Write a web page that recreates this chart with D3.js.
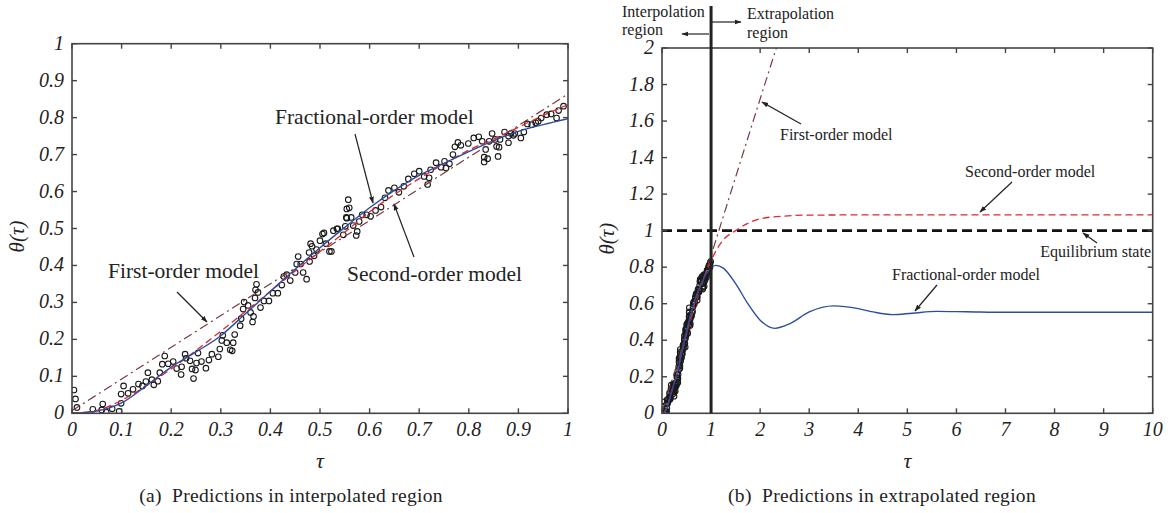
<!DOCTYPE html>
<html>
<head>
<meta charset="utf-8">
<script src="https://cdn.jsdelivr.net/npm/d3@7"></script>
<style>
	body{margin:0;background:#fff;}
	svg{display:block;}
	text{font-family:"Liberation Serif","Times New Roman","DejaVu Serif",serif;}
</style>
</head>
<body>
<svg id="fig" width="1168" height="513" font-family="Liberation Serif, serif"></svg>
<script>
// observed points (tau, theta)
const obsTau = [0.004,0.007,0.01,0.042,0.062,0.06,0.069,0.081,0.095,0.099,0.099,0.104,0.113,0.123,0.134,0.142,0.149,0.153,0.161,0.165,
	0.173,0.177,0.182,0.187,0.194,0.204,0.211,0.221,0.22,0.228,0.23,0.238,0.242,0.245,0.249,0.251,0.254,0.261,0.27,0.276,
	0.282,0.295,0.298,0.302,0.304,0.312,0.319,0.323,0.325,0.328,0.339,0.341,0.345,0.347,0.355,0.36,0.364,0.366,0.369,0.37,
	0.372,0.375,0.38,0.387,0.397,0.405,0.415,0.423,0.427,0.433,0.44,0.45,0.453,0.456,0.461,0.466,0.473,0.478,0.479,0.481,
	0.484,0.488,0.493,0.5,0.505,0.508,0.512,0.519,0.523,0.527,0.534,0.536,0.547,0.551,0.554,0.554,0.557,0.559,0.553,0.563,
	0.567,0.573,0.575,0.579,0.585,0.594,0.602,0.612,0.623,0.631,0.638,0.65,0.659,0.669,0.678,0.69,0.7,0.71,0.717,0.72,
	0.723,0.734,0.744,0.751,0.754,0.761,0.768,0.772,0.778,0.784,0.799,0.81,0.82,0.827,0.831,0.831,0.834,0.838,0.841,0.847,
	0.853,0.856,0.859,0.861,0.863,0.872,0.88,0.88,0.885,0.89,0.893,0.905,0.911,0.918,0.927,0.935,0.94,0.946,0.957,0.966,
	0.977,0.981,0.991]
const obsTheta = [0.063,0.039,0.016,0.011,0.025,0.009,0.003,0.012,0.005,0.027,0.052,0.074,0.054,0.065,0.079,0.074,0.086,0.11,0.091,0.077,
	0.087,0.11,0.133,0.155,0.134,0.14,0.121,0.126,0.105,0.16,0.149,0.142,0.12,0.094,0.117,0.136,0.163,0.14,0.122,0.144,
	0.16,0.153,0.174,0.197,0.211,0.191,0.172,0.169,0.191,0.213,0.237,0.256,0.282,0.301,0.292,0.273,0.247,0.262,0.312,0.334,
	0.349,0.327,0.286,0.304,0.304,0.325,0.325,0.347,0.37,0.375,0.359,0.381,0.404,0.424,0.404,0.381,0.363,0.435,0.411,0.459,
	0.452,0.426,0.443,0.467,0.485,0.488,0.459,0.438,0.438,0.494,0.499,0.499,0.483,0.506,0.528,0.553,0.578,0.556,0.53,0.53,
	0.508,0.481,0.492,0.519,0.537,0.537,0.533,0.549,0.558,0.583,0.603,0.61,0.598,0.614,0.634,0.648,0.655,0.641,0.619,0.637,
	0.659,0.678,0.666,0.682,0.664,0.675,0.7,0.721,0.733,0.725,0.73,0.745,0.748,0.736,0.693,0.68,0.714,0.689,0.736,0.757,
	0.741,0.722,0.695,0.72,0.741,0.761,0.75,0.732,0.757,0.752,0.757,0.745,0.761,0.783,0.781,0.786,0.79,0.799,0.808,0.81,
	0.799,0.819,0.831]

// fractional-order model
const fracTau = [0,0.05,0.1,0.15,0.2,0.25,0.3,0.35,0.4,0.45,0.5,0.55,0.6,0.65,0.7,0.75,0.8,0.85,0.9,0.95,1,
	1.1,1.25,1.5,1.75,2,2.3,2.6,3,3.5,4,4.3,4.7,5.1,5.6,6.2,7,8,9,10]
const fracTheta = [0,0.006,0.028,0.075,0.125,0.166,0.21,0.27,0.33,0.39,0.448,0.503,0.556,0.603,0.644,0.676,0.708,0.738,0.763,0.781,0.797,
	0.81,0.795,0.71,0.6,0.51,0.465,0.49,0.555,0.588,0.573,0.555,0.54,0.548,0.558,0.556,0.553,0.553,0.553,0.553]

// second-order model
const secTau = [0,0.05,0.1,0.15,0.2,0.25,0.3,0.35,0.4,0.45,0.5,0.55,0.6,0.65,0.7,0.75,0.8,0.85,0.9,0.95,1,
	1.1,1.25,1.5,1.75,2,2.5,3,4,6,10]
const secTheta = [0,0.008,0.035,0.075,0.12,0.17,0.222,0.276,0.33,0.385,0.438,0.49,0.545,0.592,0.635,0.675,0.712,0.742,0.774,0.806,0.835,
	0.89,0.95,1.0,1.04,1.065,1.08,1.085,1.086,1.086,1.086]

// first-order model
const firstTau = [0,0.5,1,1.5,2,2.33]
const firstTheta = [0.007,0.436,0.864,1.293,1.721,2.0]

// equilibrium state
const eqTau = [0,10]
const eqTheta = [1,1]

const ticksA_x = [0,0.1,0.2,0.3,0.4,0.5,0.6,0.7,0.8,0.9,1]
const ticksA_y = [0,0.1,0.2,0.3,0.4,0.5,0.6,0.7,0.8,0.9,1]
const ticksB_x = [0,1,2,3,4,5,6,7,8,9,10]
const ticksB_y = [0,0.2,0.4,0.6,0.8,1,1.2,1.4,1.6,1.8,2]

const serif = '"Liberation Serif", "Times New Roman", serif'
const svg = d3.select('#fig')

const defs = svg.append('defs')
defs.append('marker')
	.attr('id','arr')
	.attr('viewBox','0 0 10 10')
	.attr('refX',9).attr('refY',5)
	.attr('markerWidth',7).attr('markerHeight',7)
	.attr('markerUnits','userSpaceOnUse')
	.attr('orient','auto')
	.append('path')
	.attr('d','M0,1.5 L10,5 L0,8.5 Z')
	.attr('fill','#222')

const zipPts = (a,b) => a.map((t,i)=>[t,b[i]])

const panel = (o)=>{
	const x = d3.scaleLinear().domain(o.xd).range([o.l,o.r])
	const y = d3.scaleLinear().domain(o.yd).range([o.b,o.t])

	const g = svg.append('g').attr('font-family',serif)

	g.append('clipPath').attr('id',o.id + 'clip')
		.append('rect')
		.attr('x',o.l).attr('y',o.t)
		.attr('width',o.r - o.l).attr('height',o.b - o.t)

	const plot = g.append('g').attr('clip-path',`url(#${o.id}clip)`)

	// data points
	plot.selectAll('.obs')
		.data(zipPts(obsTau,obsTheta))
		.enter()
		.append('circle')
		.classed('obs',true)
		.attr('cx',d=>x(d[0]))
		.attr('cy',d=>y(d[1]))
		.attr('r',2.8)
		.attr('fill','none')
		.attr('stroke','#1a1a1a')
		.attr('stroke-width',1.1)

	const line = d3.line().x(d=>x(d[0])).y(d=>y(d[1])).curve(d3.curveMonotoneX)
	const lim = d => d[0] <= o.xd[1] + 1e-9

	if(o.eq){
		plot.append('path')
			.attr('d',line(zipPts(eqTau,eqTheta)))
			.attr('fill','none')
			.attr('stroke','#111')
			.attr('stroke-width',2.6)
			.attr('stroke-dasharray','10,5')
	}

	plot.append('path')
		.attr('d',line(zipPts(firstTau,firstTheta).filter(lim)))
		.attr('fill','none')
		.attr('stroke','#7a3a3c')
		.attr('stroke-width',1.2)
		.attr('stroke-dasharray','9,4,2,4')

	plot.append('path')
		.attr('d',line(zipPts(secTau,secTheta).filter(lim)))
		.attr('fill','none')
		.attr('stroke','#e0282d')
		.attr('stroke-width',1.3)
		.attr('stroke-dasharray','7,4')

	plot.append('path')
		.attr('d',line(zipPts(fracTau,fracTheta).filter(lim)))
		.attr('fill','none')
		.attr('stroke','#2d4d9e')
		.attr('stroke-width',1.4)

	// frame + inward ticks
	const axc = '#444'
	g.append('rect')
		.attr('x',o.l).attr('y',o.t)
		.attr('width',o.r - o.l).attr('height',o.b - o.t)
		.attr('fill','none')
		.attr('stroke',axc)
		.attr('stroke-width',1.6)

	const tl = 5
	o.xt.forEach(v=>{
		g.append('line').attr('x1',x(v)).attr('x2',x(v)).attr('y1',o.b).attr('y2',o.b - tl).attr('stroke',axc).attr('stroke-width',1.4)
		g.append('line').attr('x1',x(v)).attr('x2',x(v)).attr('y1',o.t).attr('y2',o.t + tl).attr('stroke',axc).attr('stroke-width',1.4)
	})
	o.yt.forEach(v=>{
		g.append('line').attr('y1',y(v)).attr('y2',y(v)).attr('x1',o.l).attr('x2',o.l + tl).attr('stroke',axc).attr('stroke-width',1.4)
		g.append('line').attr('y1',y(v)).attr('y2',y(v)).attr('x1',o.r).attr('x2',o.r - tl).attr('stroke',axc).attr('stroke-width',1.4)
	})

	g.selectAll('.xl')
		.data(o.xt)
		.enter()
		.append('text')
		.attr('x',d=>x(d))
		.attr('y',o.b + 23)
		.attr('text-anchor','middle')
		.attr('font-family',serif)
		.style('font-style','italic')
		.style('font-size','20px')
		.attr('fill','#222')
		.text(d=>d)

	g.selectAll('.yl')
		.data(o.yt)
		.enter()
		.append('text')
		.attr('x',o.l - 8)
		.attr('y',d=>y(d) + 6)
		.attr('text-anchor','end')
		.attr('font-family',serif)
		.style('font-style','italic')
		.style('font-size','20px')
		.attr('fill','#222')
		.text(d=>d)

	g.append('text')
		.attr('x',(o.l + o.r) / 2)
		.attr('y',468)
		.attr('text-anchor','middle')
		.attr('font-family',serif)
		.style('font-style','italic')
		.style('font-size','22px')
		.attr('fill','#222')
		.text('τ')

	g.append('text')
		.attr('transform',`translate(${o.l - 48},${(o.t + o.b) / 2 + 8}) rotate(-90)`)
		.attr('text-anchor','middle')
		.attr('font-family',serif)
		.style('font-style','italic')
		.style('font-size','21px')
		.attr('fill','#222')
		.text('θ(τ)')

	g.append('text')
		.attr('x',o.capX)
		.attr('y',502)
		.attr('text-anchor','middle')
		.attr('font-family',serif)
		.style('font-size','19.5px')
		.style('letter-spacing','0.3px')
		.attr('fill','#222')
		.attr('xml:space','preserve')
		.text(o.cap)

	return {x,y,g}
}

const A = panel({id:'a',l:72,r:568,t:43.7,b:413.3,xd:[0,1],yd:[0,1],xt:ticksA_x,yt:ticksA_y,
	cap:'(a)  Predictions in interpolated region',capX:291})
const B = panel({id:'b',l:662,r:1152.7,t:48,b:413.3,xd:[0,10],yd:[0,2],xt:ticksB_x,yt:ticksB_y,eq:true,
	cap:'(b)  Predictions in extrapolated region',capX:882})

// interpolation / extrapolation boundary
svg.append('line')
	.attr('x1',B.x(1)).attr('x2',B.x(1))
	.attr('y1',6).attr('y2',B.y(0))
	.attr('stroke','#222')
	.attr('stroke-width',3)

const note = (txt,xx,yy,sz,anchor)=>{
	svg.append('text')
		.attr('x',xx).attr('y',yy)
		.attr('text-anchor',anchor || 'start')
		.attr('font-family',serif)
		.style('font-size',sz + 'px')
		.attr('fill','#222')
		.text(txt)
}
const arrow = (x1,y1,x2,y2)=>{
	svg.append('line')
		.attr('x1',x1).attr('y1',y1).attr('x2',x2).attr('y2',y2)
		.attr('stroke','#222')
		.attr('stroke-width',1.2)
		.attr('marker-end','url(#arr)')
}

// panel a notes
note('Fractional-order model',275,124,21.5)
arrow(355,134,373,203)
note('Second-order model',347,281,21.5)
arrow(414,257,394,204)
note('First-order model',108,278,21.5)
arrow(177,292,207,322)

// panel b notes
note('Interpolation',622,17,16)
note('region',622,35,16)
arrow(709,34,682,34)
note('Extrapolation',747,19,16)
note('region',747,38,16)
arrow(712,22,741,22)
note('First-order model',780,140,16)
arrow(801,124,762,102)
note('Second-order model',965,177,16)
arrow(1012,182,980,212)
note('Equilibrium state',1151,257,16,'end')
arrow(1097,243,1083,233)
note('Fractional-order model',892,280,16)
arrow(937,285,915,311)
</script>
</body>
</html>
